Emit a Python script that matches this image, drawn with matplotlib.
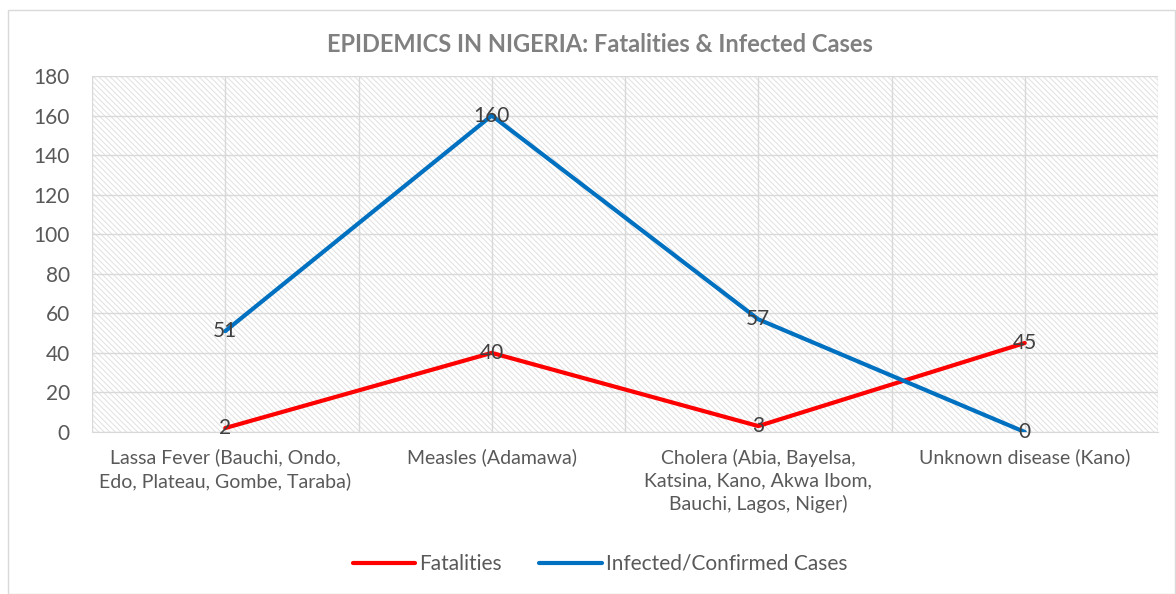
import matplotlib.pyplot as plt
from matplotlib.patches import Rectangle

categories = ["Lassa Fever (Bauchi, Ondo,\nEdo, Plateau, Gombe, Taraba)",
              "Measles (Adamawa)",
              "Cholera (Abia, Bayelsa,\nKatsina, Kano, Akwa Ibom,\nBauchi, Lagos, Niger)",
              "Unknown disease (Kano)"]
fatalities = [2, 40, 3, 45]
infected = [51, 160, 57, 0]

plt.rcParams['font.family'] = ['Lato', 'DejaVu Sans']
plt.rcParams['hatch.color'] = '#e0e0e0'
plt.rcParams['hatch.linewidth'] = 0.7

fig = plt.figure(figsize=(11.76, 5.94), dpi=100)
fig.patches.append(Rectangle((8/1176, 0), 1 - 8/1176 - 0.001, 1 - 10/594,
                             transform=fig.transFigure, fill=False,
                             edgecolor='#d9d9d9', linewidth=1))
ax = fig.add_axes([92/1176, 1 - 432/594, 1066/1176, 356/594])

ax.patch.set_facecolor('white')
ax.patch.set_hatch('\\' * 6)
ax.patch.set_edgecolor('#e0e0e0')

x = list(range(len(categories)))
ax.plot(x, fatalities, color='#ff0000', lw=3, label='Fatalities', solid_capstyle='round', zorder=3)
ax.plot(x, infected, color='#0070c0', lw=3, label='Infected/Confirmed Cases', solid_capstyle='round', zorder=3)

for xi, v in zip(x, fatalities):
    ax.text(xi, v, str(v), ha='center', va='center', fontsize=15, color='#404040', zorder=4)
for xi, v in zip(x, infected):
    ax.text(xi, v, str(v), ha='center', va='center', fontsize=15, color='#404040', zorder=4)

ax.set_xlim(-0.5, len(categories) - 0.5)
ax.set_ylim(0, 180)
ax.set_yticks(range(0, 181, 20))
ax.set_xticks(x)
ax.set_xticklabels(categories, fontsize=14, color='#595959', linespacing=1.4)
ax.set_xticks([i - 0.5 for i in range(len(categories) + 1)], minor=True)
ax.tick_params(axis='y', labelsize=15, colors='#595959', length=0, pad=16)
ax.tick_params(axis='x', which='both', length=0, pad=12)
ax.grid(True, which='both', color='#d9d9d9', lw=1)
ax.set_axisbelow(True)
for s in ['top', 'right', 'left']:
    ax.spines[s].set_visible(False)
ax.spines['bottom'].set_color('#d9d9d9')

fig.text(600/1176, 1 - 45/594, 'EPIDEMICS IN NIGERIA: Fatalities & Infected Cases',
         ha='center', va='center', fontsize=17, fontweight='bold', color='#808080')

fig.legend(loc='center', bbox_to_anchor=(600/1176, 1 - 564/594), ncol=2, frameon=False,
           fontsize=15, labelcolor='#595959', handlelength=3, handletextpad=0.2, columnspacing=1.8)

fig.savefig('out.png', dpi=100)
